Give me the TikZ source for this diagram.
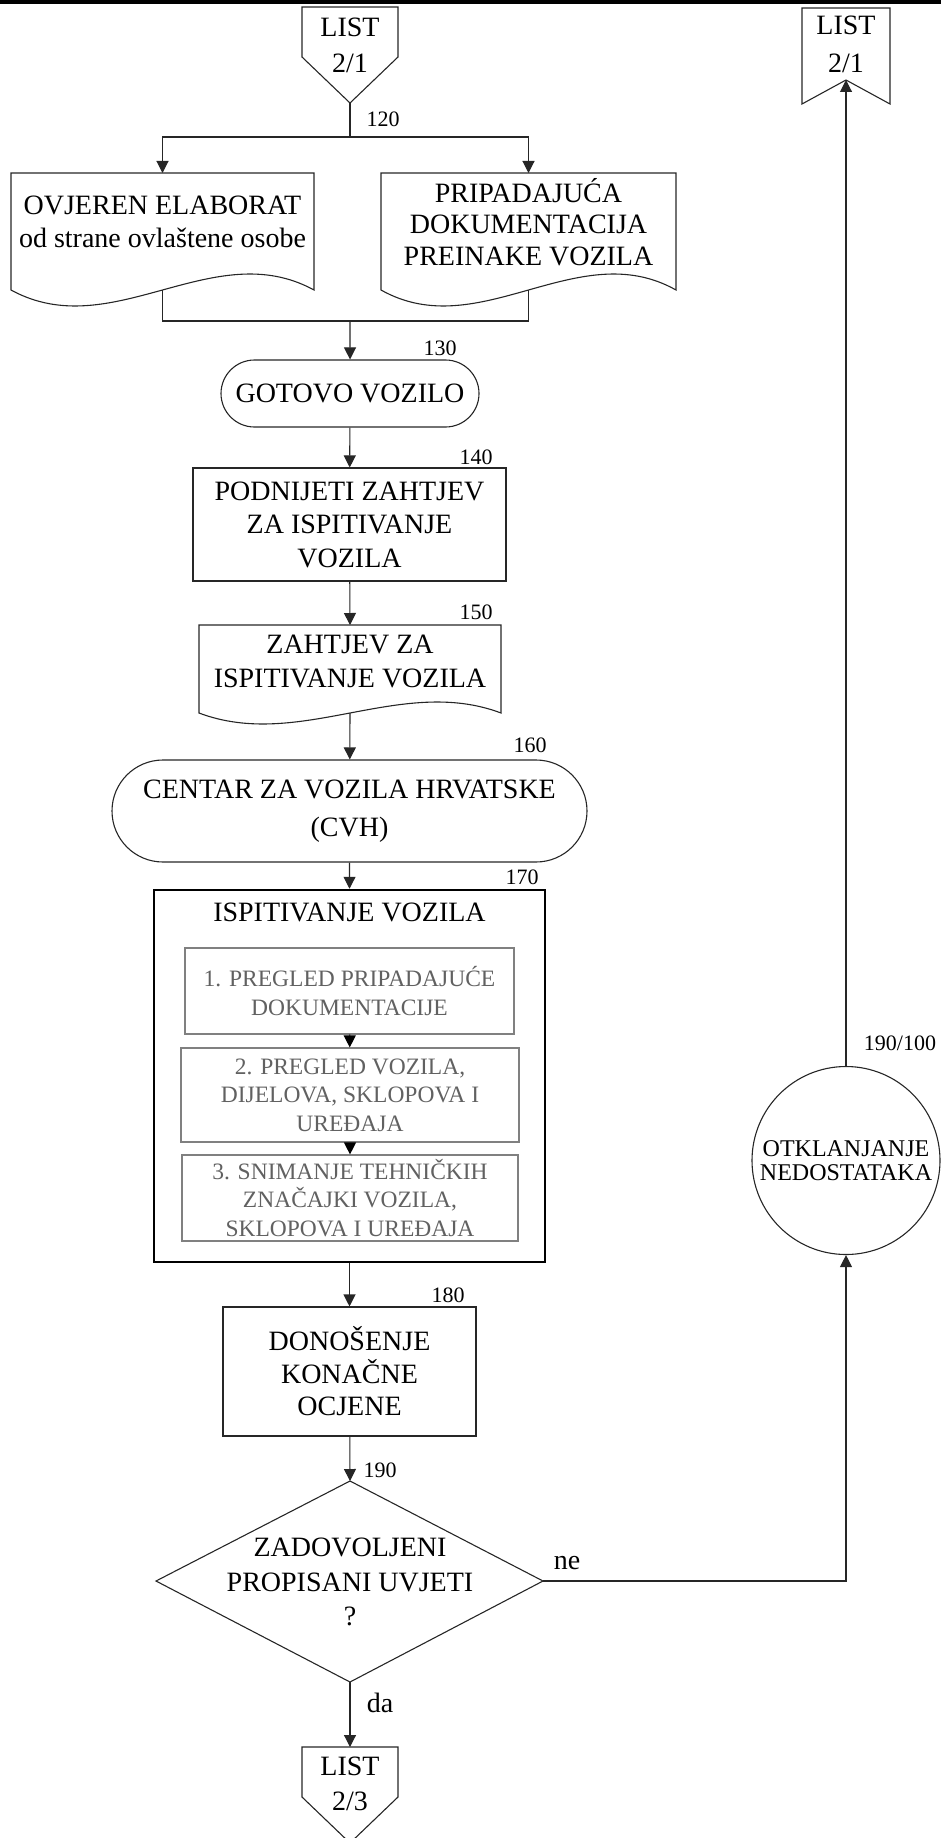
\documentclass[tikz,border=0pt]{standalone}
\usepackage{fontspec}
\setmainfont{Liberation Serif}
\usetikzlibrary{arrows.meta,shapes.misc}
% document symbol: left, top, right, level of the side ends, wave amplitude
\newcommand\flowdoc[5]{%
  \draw[outline] (#1,#4) -- (#1,#2) -- (#3,#2) -- (#3,#4)
    .. controls ({#1+(#3-#1)*2/3},{#4-3.46*#5}) and ({#1+(#3-#1)/3},{#4+3.46*#5}) .. (#1,#4) -- cycle;}
\begin{document}
\begin{tikzpicture}[x=1pt,y=-1pt,
  outline/.style={line width=1.1pt,draw=black!85},
  conn/.style={line width=1.1pt,draw=black!85},
  arr/.style={conn,-{Triangle[length=12pt,width=12pt]}},
  txt/.style={font=\fontsize{28}{33.5}\selectfont,align=center,inner sep=0pt},
  num/.style={font=\fontsize{22}{26}\selectfont,inner sep=0pt},
  procbox/.style={draw=black!85,line width=1.1pt,txt},
  subbox/.style={draw=black!50,line width=1.2pt,font=\fontsize{23.5}{28.5}\selectfont,
                 text=black!62,align=center,inner sep=0pt},
  term/.style={rounded rectangle,draw=black!85,line width=1.1pt,txt},
]
\useasboundingbox (0,0) rectangle (941,1838);
\fill[black] (0,0) rectangle (941,4);

% incoming page reference
\draw[outline] (302,7) -- (398,7) -- (398,57) -- (350,103) -- (302,57) -- cycle;
\node[txt,font=\fontsize{28}{36}\selectfont] (pgin) at (350,45) {LIST\\2/1};
\coordinate (pgintip) at (350,103);
\coordinate (split) at (350,137);
\node[num] (l120) at (383,119) {120};

% the two documents
\flowdoc{11}{173}{314}{290}{16}
\coordinate (docAtop) at (162.5,173);
\coordinate (docAbot) at (162.5,290);
\node[txt] (docA) at (162.5,222) {OVJEREN ELABORAT\\od strane ovlaštene osobe};

\flowdoc{381}{173}{676}{290}{16}
\coordinate (docBtop) at (528.5,173);
\coordinate (docBbot) at (528.5,290);
\node[txt,font=\fontsize{28}{31.5}\selectfont] (docB) at (528.5,222) {PRIPADAJUĆA\\DOKUMENTACIJA\\PREINAKE VOZILA};

\draw[conn] (pgintip) -- (split);
\draw[arr] (split) -| (docAtop);
\draw[arr] (split) -| (docBtop);

\coordinate (merge) at (350,321);
\draw[conn] (docAbot) |- (merge) -| (docBbot);

% main column
\node[term,minimum width=258pt,minimum height=67pt] (n130) at (350,393.5) {GOTOVO VOZILO};
\node[num] (l130) at (440,348) {130};
\draw[arr] (merge) -- (n130);

\node[procbox,minimum width=313pt,minimum height=113pt] (n140) at (349.5,524.5)
  {PODNIJETI ZAHTJEV\\ZA ISPITIVANJE\\VOZILA};
\node[num] (l140) at (476,457) {140};
\draw[arr] (n130) -- (n140);

\flowdoc{199}{625}{501}{713}{11}
\coordinate (d150top) at (350,625);
\coordinate (d150bot) at (350,713);
\node[txt] (n150) at (350,661.5) {ZAHTJEV ZA\\ISPITIVANJE VOZILA};
\node[num] (l150) at (476,612) {150};
\draw[arr] (n140) -- (d150top);

\node[term,minimum width=475pt,minimum height=102pt,font=\fontsize{28}{38}\selectfont] (n160)
  at (349.5,811) {CENTAR ZA VOZILA HRVATSKE\\(CVH)};
\node[num] (l160) at (530,745) {160};
\draw[arr] (d150bot) -- (n160);

% testing block with its three steps
\node[draw=black,line width=2.5pt,minimum width=391pt,minimum height=372pt] (n170) at (349.5,1076) {};
\node[num] (l170) at (522,877) {170};
\node[txt] (t170) at (349.5,912) {ISPITIVANJE VOZILA};
\node[subbox,minimum width=329pt,minimum height=86pt] (s1) at (349.5,991)
  {1. PREGLED PRIPADAJUĆE\\DOKUMENTACIJE};
\node[subbox,minimum width=338pt,minimum height=94pt] (s2) at (350,1095)
  {2. PREGLED VOZILA,\\DIJELOVA, SKLOPOVA I\\UREĐAJA};
\node[subbox,minimum width=336pt,minimum height=86pt] (s3) at (350,1198)
  {3. SNIMANJE TEHNIČKIH\\ZNAČAJKI VOZILA,\\SKLOPOVA I UREĐAJA};
\draw[arr,draw=black] (s1) -- (s2);
\draw[arr,draw=black] (s2) -- (s3);
\draw[arr] (n160) -- (n170);

\node[procbox,minimum width=253pt,minimum height=129pt,font=\fontsize{28}{32.5}\selectfont] (n180)
  at (349.5,1371.5) {DONOŠENJE\\KONAČNE\\OCJENE};
\node[num] (l180) at (448,1295) {180};
\draw[arr] (n170) -- (n180);

% decision
\coordinate (dt) at (350,1481);
\coordinate (dr) at (543,1581);
\coordinate (db) at (350,1682);
\coordinate (dl) at (156,1581);
\draw[outline] (dt) -- (dr) -- (db) -- (dl) -- cycle;
\node[txt,font=\fontsize{28}{34.5}\selectfont] (n190) at (350,1582)
  {ZADOVOLJENI\\PROPISANI UVJETI\\?};
\node[num] (l190) at (380,1470) {190};
\draw[arr] (n180) -- (dt);

% outgoing page reference
\draw[outline] (302,1747) -- (398,1747) -- (398,1797) -- (350,1843) -- (302,1797) -- cycle;
\coordinate (pgouttop) at (350,1747);
\node[txt,font=\fontsize{28}{35}\selectfont] (pgout) at (350,1783.5) {LIST\\2/3};
\node[txt] (lda) at (380,1703) {da};
\draw[arr] (db) -- (pgouttop);

% rework loop
\node[circle,draw=black!85,line width=1.1pt,minimum size=188pt,inner sep=0pt,align=center,
      font=\fontsize{24}{24.5}\selectfont] (n190b) at (846,1160.5) {OTKLANJANJE\\NEDOSTATAKA};
\node[num] (l190b) at (900,1043) {190/100};
\node[txt] (lne) at (567,1563) {ne};
\draw[arr] (dr) -| (n190b.south);

\draw[outline] (802,8) -- (890,8) -- (890,104) -- (846,80) -- (802,104) -- cycle;
\coordinate (pgrnotch) at (846,80);
\node[txt,font=\fontsize{28}{38}\selectfont] (pgret) at (846,44) {LIST\\2/1};
\draw[arr] (n190b.north) -- (pgrnotch);
\end{tikzpicture}
\end{document}
